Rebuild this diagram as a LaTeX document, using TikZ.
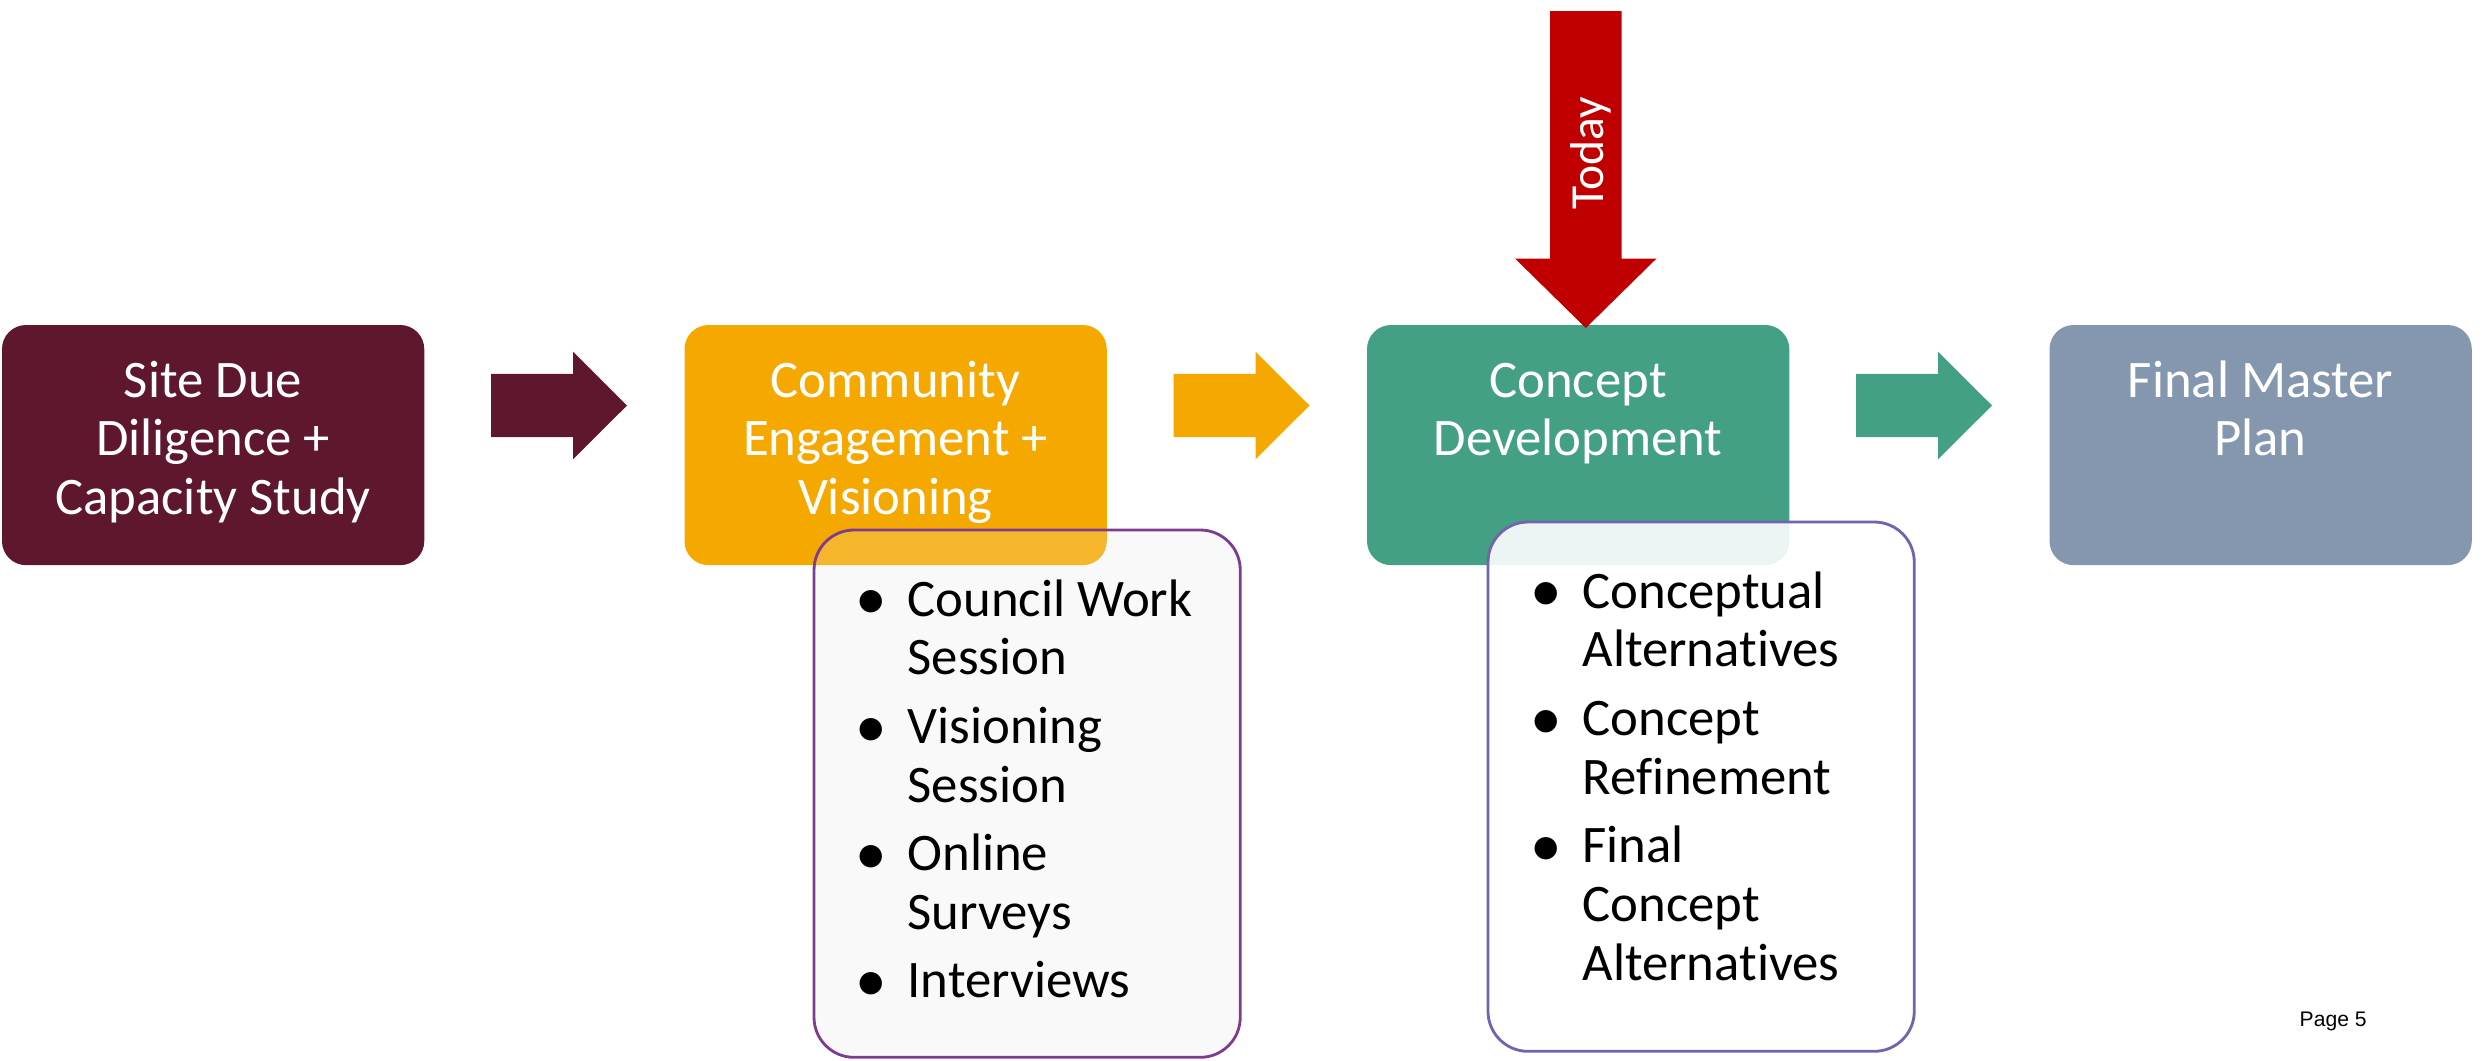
\documentclass[tikz,border=0pt]{standalone}
\usepackage{fontspec}
\setmainfont{Carlito}[Ligatures=NoCommon, RawFeature={-liga;-clig;-dlig;-calt}]
\newfontfamily\pagefont{Liberation Sans}
\definecolor{cmaroon}{HTML}{5E172D}
\definecolor{corange}{HTML}{F5A800}
\definecolor{cgreen}{HTML}{44A085}
\definecolor{cslate}{HTML}{8597AF}
\definecolor{cred}{HTML}{C00000}
\definecolor{cpurpleA}{HTML}{7D3C8F}
\definecolor{cpurpleB}{HTML}{7362AD}
\definecolor{clgrey}{HTML}{F9F9F9}
\newcommand\lbul{\makebox[20.9pt][c]{\raisebox{-1.1pt}{\fontsize{18}{16.7}\selectfont\textbullet}}}
\newcommand\lind{\hspace*{20.9pt}}
\newcommand\blockarrow[2]{%
  \fill[#2] (#1,373.8) -- ({#1+82},373.8) -- ({#1+82},351.7) -- ({#1+136},405.5)
     -- ({#1+82},459.3) -- ({#1+82},437.2) -- (#1,437.2) -- cycle;}
\begin{document}
\begin{tikzpicture}[x=0.01cm,y=-0.01cm,
  stage/.style={rounded corners=0.24cm, inner sep=0pt, outer sep=0pt,
    minimum width=4.22cm, minimum height=2.4cm, anchor=north west},
  stagetext/.style={text=white, inner sep=0pt, anchor=base,
    font=\fontsize{15}{16.7}\selectfont},
  listbox/.style={rounded corners=0.4cm, line width=0.8pt, inner sep=0pt,
    outer sep=0pt, minimum width=4.26cm, anchor=north west},
  listtext/.style={text=black, inner sep=0pt, anchor=base west,
    font=\fontsize{15}{16.7}\selectfont}]
\useasboundingbox (0,0) rectangle (2483,1060);
% stages
\node[stage, fill=cmaroon] (b1) at (2,325) {};
\node[stage, fill=corange] (b2) at (684.5,325) {};
\node[stage, fill=cgreen] (b3) at (1367,325) {};
\node[stage, fill=cslate] (b4) at (2049.5,325) {};
\node[stagetext] (t1) at (213,397) {\parbox[t]{4cm}{\centering Site Due\\Diligence +\\Capacity Study}};
\node[stagetext] (t2) at (895.5,397) {\parbox[t]{4cm}{\centering Community\\Engagement +\\Visioning}};
\node[stagetext] (t3) at (1578,397) {\parbox[t]{4cm}{\centering Concept\\Development}};
\node[stagetext] (t4) at (2260.5,397) {\parbox[t]{4cm}{\centering Final Master\\Plan}};
% block arrows
\blockarrow{491}{cmaroon}
\blockarrow{1173.5}{corange}
\blockarrow{1856}{cgreen}
% list box 1
\node[listbox, fill=clgrey, minimum height=5.27cm] (l1) at (814,530) {};
\begin{scope}
  \clip[rounded corners=0.4cm] (l1.north west) rectangle (l1.south east);
  \fill[corange, opacity=0.82, rounded corners=0.24cm] (b2.north west) rectangle (b2.south east);
\end{scope}
\draw[cpurpleA, line width=0.8pt, rounded corners=0.4cm] (l1.north west) rectangle (l1.south east);
\node[listtext] (l1t) at (833.3,616) {\parbox[t]{9cm}{%
  \lbul Council Work\\\lind Session\par\vspace{2.8pt}
  \lbul Visioning\\\lind Session\par\vspace{2.8pt}
  \lbul Online\\\lind Surveys\par\vspace{2.8pt}
  \lbul Interviews}};
% list box 2
\node[listbox, fill=white, fill opacity=0.9, draw=cpurpleB, minimum height=5.29cm] (l2) at (1488,522) {};
\node[listtext] (l2t) at (1508.3,608) {\parbox[t]{9cm}{%
  \lbul Conceptual\\\lind Alternatives\par\vspace{2.8pt}
  \lbul Concept\\\lind Refinement\par\vspace{2.8pt}
  \lbul Final\\\lind Concept\\\lind Alternatives}};
% today arrow
\fill[cred] (1550,11) -- (1621.5,11) -- (1621.5,258.5) -- (1656.5,258.5)
  -- (1585.75,328) -- (1515,258.5) -- (1550,258.5) -- cycle;
\node[rotate=90, anchor=base, text=white, inner sep=0pt,
  font=\fontsize{13.5}{15}\selectfont] (today) at (1603,153) {Today};
% page number
\node[anchor=base west, inner sep=0pt, font=\pagefont\fontsize{6}{7}\selectfont] (pg) at (2299,1026) {Page 5};
\end{tikzpicture}
\end{document}
